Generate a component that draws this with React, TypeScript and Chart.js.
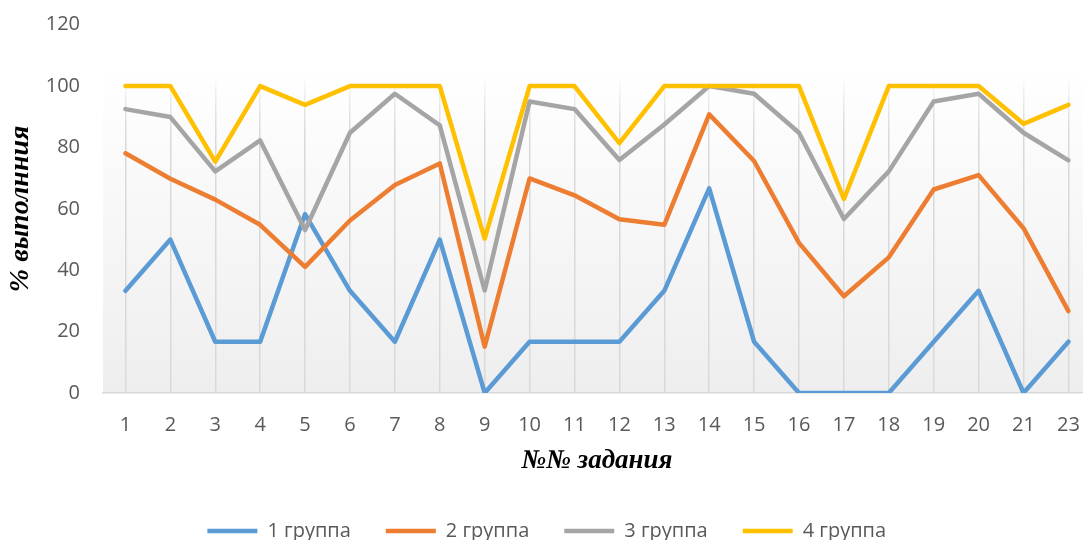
import React, { useEffect, useRef } from "react";
import { Chart, registerables } from "chart.js";

Chart.register(...registerables);

const categories = ["1", "2", "3", "4", "5", "6", "7", "8", "9", "10", "11", "12", "13", "14", "15", "16", "17", "18", "19", "20", "21", "23"];
const group1 = [33.3, 50, 16.7, 16.7, 58.3, 33.3, 16.7, 50, 0, 16.7, 16.7, 16.7, 33.3, 66.7, 16.7, 0, 0, 0, 16.7, 33.3, 0, 16.7];
const group2 = [78.1, 69.8, 63.0, 54.8, 41.1, 56.2, 67.8, 74.8, 15.1, 69.9, 64.4, 56.6, 54.8, 90.8, 75.6, 48.9, 31.5, 44.2, 66.3, 71.0, 53.7, 26.7];
const group3 = [92.5, 89.9, 72.2, 82.3, 53.1, 84.8, 97.5, 87.2, 33.4, 95.0, 92.5, 75.9, 87.5, 100, 97.5, 84.8, 56.7, 72.2, 95.0, 97.5, 84.8, 75.8];
const group4 = [100, 100, 75.4, 100, 93.9, 100, 100, 100, 50.3, 100, 100, 81.4, 100, 100, 100, 100, 63.2, 100, 100, 100, 87.7, 93.9];
const seriesNames = ["1 группа", "2 группа", "3 группа", "4 группа"];
const seriesColors = ["#5B9BD5", "#ED7D31", "#A5A5A5", "#FFC000"];
const yTitle = "% выполнния";
const xTitle = "№№ задания";

const bgPlugin = {
  id: "plotBg",
  beforeDraw(chart: any) {
    const { ctx, chartArea } = chart;
    if (!chartArea) return;
    const g = ctx.createLinearGradient(0, chartArea.top, 0, chartArea.bottom);
    g.addColorStop(0, "#ffffff");
    g.addColorStop(0.12, "#ffffff");
    g.addColorStop(1, "#eeeeee");
    ctx.save();
    ctx.fillStyle = g;
    ctx.fillRect(chartArea.left, chartArea.top, chartArea.right - chartArea.left, chartArea.bottom - chartArea.top);
    ctx.restore();
  },
};

export default function App() {
  const ref = useRef<HTMLCanvasElement | null>(null);
  useEffect(() => {
    if (!ref.current) return;
    const all = [group1, group2, group3, group4];
    const chart = new Chart(ref.current, {
      type: "line",
      data: {
        labels: categories,
        datasets: all.map((d, i) => ({
          label: seriesNames[i],
          data: d,
          borderColor: seriesColors[i],
          backgroundColor: seriesColors[i],
          borderWidth: 4.5,
          pointRadius: 0,
          tension: 0,
          fill: false,
          borderCapStyle: "round" as const,
          borderJoinStyle: "round" as const,
          order: 4 - i,
        })),
      },
      options: {
        animation: false,
        responsive: true,
        maintainAspectRatio: false,
        layout: { padding: { top: 24.7, left: 0, right: 6.5, bottom: 9 } },
        plugins: {
          tooltip: { enabled: false },
          legend: {
            position: "bottom",
            labels: {
              sort: (a: any, b: any) => a.datasetIndex - b.datasetIndex,
              usePointStyle: true,
              pointStyle: "line",
              pointStyleWidth: 50,
              boxWidth: 50,
              padding: 35,
              color: "#595959",
              font: { family: "'Open Sans'", size: 20 },
            },
          },
        },
        scales: {
          x: {
            offset: true,
            afterFit: (s: any) => {
              s.height = 93;
            },
            grid: {
              display: true,
              drawTicks: false,
              lineWidth: 1.5,
              color: (c: any) => {
                const ch = c.chart;
                const a = ch.chartArea;
                if (!a) return "#d9d9d9";
                const g = ch.ctx.createLinearGradient(0, a.top, 0, a.bottom);
                g.addColorStop(0, "rgba(217,217,217,0)");
                g.addColorStop(0.14, "rgba(217,217,217,0)");
                g.addColorStop(0.2, "rgba(217,217,217,0.5)");
                g.addColorStop(0.3, "rgba(217,217,217,1)");
                g.addColorStop(1, "rgba(217,217,217,1)");
                return g;
              },
            },
            border: { display: true, color: "#d9d9d9", width: 1.5 },
            ticks: {
              padding: 20,
              color: "#595959",
              font: { family: "'Open Sans'", size: 20 },
              maxRotation: 0,
              autoSkip: false,
            },
            title: {
              display: true,
              text: xTitle,
              color: "#000000",
              font: { family: "'Liberation Serif'", size: 27, style: "italic", weight: "bold" },
              padding: { top: 0, bottom: 8.8 },
            },
          },
          y: {
            min: 0,
            max: 120,
            afterFit: (s: any) => {
              s.width = 103;
              s.paddingTop = 12;
              s.paddingBottom = 12;
            },
            grid: { display: false, drawTicks: false },
            border: { display: false },
            ticks: {
              stepSize: 20,
              padding: 23,
              color: "#595959",
              font: { family: "'Open Sans'", size: 20 },
            },
            title: {
              display: true,
              text: yTitle,
              color: "#000000",
              font: { family: "'Liberation Serif'", size: 28, style: "italic", weight: "bold" },
              padding: { top: 4, bottom: 0 },
            },
          },
        },
      },
      plugins: [bgPlugin],
    });
    return () => chart.destroy();
  }, []);

  return (
    <div style={{ position: "fixed", left: 0, top: 0, width: 1083, height: 540, overflow: "hidden", background: "#ffffff" }}>
      <div style={{ position: "relative", width: 1100, height: 560 }}>
        <canvas ref={ref} />
      </div>
    </div>
  );
}
